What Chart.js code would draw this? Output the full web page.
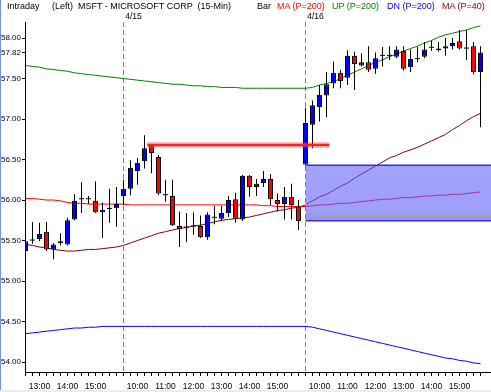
<!DOCTYPE html>
<html lang="en">
<head>
  <meta charset="UTF-8">
  <title>MSFT - Microsoft Corp (15-Min)</title>
  <script src="https://cdn.jsdelivr.net/npm/chart.js@4"></script>
  <style>
    html, body { margin: 0; padding: 0; background: #fff; }
    body {
      width: 491px; height: 392px; position: relative; overflow: hidden;
      font-family: 'Liberation Sans', Arial, sans-serif;
    }
    #chart { position: absolute; left: 0; top: 0; }
    .hdr { position: absolute; top: 0; font-size: 9px; line-height: 12px; white-space: pre; color: #000; }
    .frame-left { position: absolute; left: 0; top: 0; width: 1px; height: 392px; background: #7f8fe0; }
    .frame-bottom { position: absolute; left: 0; bottom: 0; width: 491px; height: 2px; background: #ececec; }
  </style>
</head>
<body>
  <canvas id="chart" width="491" height="392"></canvas>
  <span class="hdr" style="left:7px">Intraday</span>
  <span class="hdr" style="left:52px">(Left)</span>
  <span class="hdr" style="left:78px">MSFT - MICROSOFT CORP  (15-Min)</span>
  <span class="hdr" style="left:257px">Bar</span>
  <span class="hdr" style="left:277px;color:#ff0000">MA (P=200)</span>
  <span class="hdr" style="left:332px;color:#008000">UP (P=200)</span>
  <span class="hdr" style="left:387px;color:#0000ff">DN (P=200)</span>
  <span class="hdr" style="left:442px;color:#800000">MA (P=40)</span>
  <div class="frame-left"></div>
  <div class="frame-bottom"></div>

  <script>
    // 15-minute bars: afternoon of 4/14, then full sessions of 4/15 and 4/16
    const sessionTimes = ['9:30','9:45','10:00','10:15','10:30','10:45','11:00','11:15','11:30','11:45',
      '12:00','12:15','12:30','12:45','13:00','13:15','13:30','13:45','14:00','14:15',
      '14:30','14:45','15:00','15:15','15:30','15:45'];
    const barTimes = sessionTimes.slice(12).concat(sessionTimes, sessionTimes);
    const dayStarts = [14, 40];
    const dayLabels = ['4/15', '4/16'];

    const open = [55.37,55.50,55.52,55.61,55.39,55.47,55.45,55.76,56.01,56.01,
      55.99,55.85,55.89,55.90,56.05,56.14,56.36,56.48,56.67,56.53,
      56.06,56.05,55.68,55.66,55.69,55.68,55.54,55.78,55.77,55.84,
      56.01,55.76,56.30,56.16,56.21,56.26,56.00,55.95,56.04,55.92,
      56.44,56.93,57.15,57.29,57.44,57.57,57.51,57.78,57.66,57.70,
      57.62,57.78,57.78,57.77,57.84,57.64,57.74,57.77,57.88,57.87,
      57.87,57.90,57.96,57.87,57.90,57.58];
    const high = [55.55,55.73,55.72,55.73,55.47,55.59,55.78,56.07,56.22,56.05,
      56.23,55.97,56.14,56.16,56.25,56.49,56.52,56.80,56.68,56.56,
      56.25,56.25,55.86,55.84,55.85,55.81,55.85,55.93,55.93,56.05,
      56.09,56.31,56.31,56.26,56.36,56.32,56.08,56.16,56.20,56.00,
      57.14,57.23,57.42,57.58,57.71,57.61,57.85,57.83,57.81,57.90,
      57.82,57.89,57.90,57.90,57.90,57.86,57.89,57.95,57.97,57.95,
      58.00,58.00,58.10,58.10,57.95,57.90];
    const low = [55.36,55.46,55.49,55.37,55.27,55.44,55.44,55.75,55.84,55.95,
      55.84,55.53,55.72,55.67,55.94,56.06,56.19,56.39,56.33,56.06,
      55.98,55.68,55.42,55.48,55.57,55.53,55.51,55.70,55.74,55.79,
      55.72,55.74,56.04,56.05,56.16,55.94,55.86,55.76,55.76,55.63,
      56.43,56.64,56.97,57.02,57.38,57.38,57.42,57.36,57.65,57.58,
      57.56,57.65,57.73,57.75,57.60,57.58,57.70,57.75,57.84,57.83,
      57.78,57.86,57.86,57.73,57.55,56.90];
    const close = [55.49,55.50,55.58,55.39,55.45,55.49,55.75,55.99,56.01,56.01,
      55.85,55.88,55.89,55.95,56.14,56.40,56.46,56.64,56.58,56.08,
      56.06,55.69,55.64,55.66,55.67,55.54,55.82,55.78,55.84,56.00,
      55.77,56.30,56.16,56.20,56.26,56.01,55.95,56.04,55.94,55.74,
      56.95,57.17,57.30,57.43,57.57,57.47,57.78,57.68,57.70,57.61,
      57.75,57.78,57.78,57.86,57.62,57.74,57.74,57.86,57.88,57.85,
      57.90,57.94,57.87,57.87,57.58,57.82];

    const ma200 = [56.02,56.02,56.01,56.00,56.00,55.99,55.97,55.96,55.96,55.95,
      55.95,55.95,55.95,55.95,55.95,55.94,55.94,55.94,55.94,55.94,
      55.94,55.94,55.94,55.94,55.94,55.94,55.94,55.94,55.94,55.94,
      55.94,55.94,55.94,55.94,55.93,55.93,55.92,55.92,55.92,55.92,
      55.92,55.93,55.94,55.94,55.95,55.96,55.96,55.97,55.98,55.99,
      56.00,56.01,56.01,56.02,56.03,56.03,56.04,56.05,56.05,56.06,
      56.06,56.07,56.07,56.08,56.09,56.10];
    const upBand = [57.66,57.65,57.64,57.62,57.61,57.60,57.59,57.57,57.56,57.55,
      57.54,57.53,57.52,57.51,57.50,57.49,57.48,57.47,57.46,57.45,
      57.44,57.43,57.43,57.42,57.41,57.41,57.40,57.40,57.39,57.39,
      57.39,57.38,57.38,57.38,57.38,57.38,57.38,57.38,57.38,57.38,
      57.38,57.39,57.42,57.44,57.46,57.50,57.54,57.58,57.62,57.66,
      57.70,57.73,57.77,57.80,57.84,57.87,57.90,57.94,57.97,58.01,
      58.04,58.06,58.08,58.10,58.13,58.15];
    const dnBand = [54.35,54.36,54.37,54.38,54.39,54.40,54.41,54.42,54.42,54.43,
      54.43,54.44,54.44,54.44,54.44,54.44,54.44,54.44,54.44,54.44,
      54.44,54.44,54.44,54.44,54.44,54.44,54.44,54.44,54.44,54.44,
      54.44,54.44,54.44,54.44,54.44,54.44,54.44,54.44,54.44,54.44,
      54.44,54.43,54.41,54.39,54.37,54.35,54.33,54.31,54.29,54.27,
      54.25,54.23,54.21,54.19,54.17,54.15,54.13,54.11,54.09,54.07,
      54.05,54.04,54.02,54.01,53.99,53.98];
    const ma40 = [55.45,55.44,55.42,55.41,55.39,55.38,55.37,55.37,55.38,55.39,
      55.39,55.40,55.41,55.42,55.44,55.47,55.50,55.53,55.56,55.59,
      55.61,55.63,55.65,55.66,55.68,55.69,55.71,55.73,55.75,55.76,
      55.77,55.78,55.79,55.81,55.83,55.85,55.87,55.88,55.90,55.91,
      55.94,55.99,56.04,56.07,56.12,56.17,56.21,56.27,56.32,56.37,
      56.42,56.47,56.52,56.55,56.59,56.62,56.65,56.69,56.73,56.77,
      56.81,56.87,56.92,56.98,57.03,57.07];

    const yTicks = [54.00, 54.50, 55.00, 55.50, 56.00, 56.50, 57.00, 57.50, 57.82, 58.00];

    // hand-drawn marks: gap zone from the 4/16 open and the red resistance line
    const gapStart = 40, gapTop = 56.43, gapBottom = 55.745;
    const lineFrom = 17.4, lineTo = 43.4, linePrice = 56.68;

    const xMin = -1 / 14, xMax = 66.5;
    const yMin = 53.877, yMax = 58.198;

    const FONT = { family: "'Liberation Sans', Arial, sans-serif", size: 8.5 };
    const YFONT = { family: "'Liberation Sans', Arial, sans-serif", size: 8 };

    const bars = barTimes.map((t, i) => i);
    const series = arr => bars.map(i => ({ x: i, y: arr[i] }));

    function gapFill(ctx) {
      const chart = ctx.chart;
      if (!chart.chartArea) return 'rgba(90,90,250,0.58)';
      const ys = chart.scales.y;
      const t = ys.getPixelForValue(gapTop), b = ys.getPixelForValue(gapBottom);
      const g = chart.ctx.createLinearGradient(0, t, 0, b);
      g.addColorStop(0, 'rgba(90,90,250,0.56)');
      g.addColorStop(0.8, 'rgba(90,90,250,0.58)');
      g.addColorStop(1, 'rgba(110,110,170,0.7)');
      return g;
    }

    const ctx = document.getElementById('chart').getContext('2d');
    new Chart(ctx, {
      type: 'bar',
      data: {
        datasets: [
          {
            type: 'line', label: 'line', order: -1,
            data: [{ x: lineFrom, y: linePrice }, { x: lineTo, y: linePrice }],
            borderColor: '#ff2020', borderWidth: 2.5, pointRadius: 0
          },
          {
            type: 'line', label: 'line glow', order: 0,
            data: [{ x: lineFrom, y: linePrice }, { x: lineTo, y: linePrice }],
            borderColor: 'rgba(255,80,80,0.35)', borderWidth: 6, pointRadius: 0
          },
          {
            type: 'line', label: 'gap top', order: 1,
            data: [{ x: gapStart, y: gapTop }, { x: xMax + 1, y: gapTop }],
            borderColor: '#3030d8', borderWidth: 1.5, pointRadius: 0
          },
          {
            type: 'line', label: 'gap bottom', order: 1,
            data: [{ x: gapStart, y: gapBottom }, { x: xMax + 1, y: gapBottom }],
            borderColor: '#3030d8', borderWidth: 1.5, pointRadius: 0,
            fill: '-1', backgroundColor: gapFill
          },
          {
            label: 'body', order: 2, grouped: false,
            data: bars.map(i => ({ x: i, y: [open[i], close[i]] })),
            backgroundColor: c => {
              const i = c.dataIndex;
              return close[i] > open[i] ? '#0000ff' : close[i] < open[i] ? '#ff0000' : '#000';
            },
            borderColor: '#000',
            borderWidth: c => (close[c.dataIndex] === open[c.dataIndex] ? 0 : 1),
            borderSkipped: false, barThickness: 5, minBarLength: 1, inflateAmount: 0
          },
          {
            label: 'wick', order: 3, grouped: false,
            data: bars.map(i => ({ x: i, y: [low[i], high[i]] })),
            backgroundColor: '#000', borderWidth: 0, barThickness: 1, inflateAmount: 0
          },
          { type: 'line', label: 'MA (P=200)', order: 4, data: series(ma200), borderColor: '#ff0000', borderWidth: 1, pointRadius: 0 },
          { type: 'line', label: 'UP (P=200)', order: 4, data: series(upBand), borderColor: '#008000', borderWidth: 1, pointRadius: 0 },
          { type: 'line', label: 'DN (P=200)', order: 4, data: series(dnBand), borderColor: '#0000ff', borderWidth: 1, pointRadius: 0 },
          { type: 'line', label: 'MA (P=40)', order: 4, data: series(ma40), borderColor: '#800000', borderWidth: 1, pointRadius: 0 }
        ]
      },
      options: {
        responsive: false,
        animation: false,
        devicePixelRatio: 1,
        layout: { padding: 0 },
        plugins: { legend: { display: false }, tooltip: { enabled: false } },
        scales: {
          x: {
            type: 'linear', position: 'bottom', min: xMin, max: xMax, offset: false,
            afterBuildTicks: s => { s.ticks = bars.map(i => ({ value: i })); },
            afterFit: s => { s.height = 20; },
            ticks: {
              autoSkip: false, maxRotation: 0, minRotation: 0, padding: 6, color: '#000', font: FONT,
              callback: v => (barTimes[v] && barTimes[v].endsWith(':00') ? barTimes[v] : '')
            },
            grid: { drawOnChartArea: false, tickLength: 4, color: '#000', offset: false },
            border: { color: '#000' }
          },
          x2: {
            type: 'linear', position: 'top', min: xMin, max: xMax, offset: false,
            afterBuildTicks: s => { s.ticks = dayStarts.map(v => ({ value: v })); },
            afterFit: s => { s.height = 22; },
            ticks: {
              autoSkip: false, maxRotation: 0, padding: 0, labelOffset: 10, color: '#000', font: FONT,
              callback: (v, i) => dayLabels[i]
            },
            grid: { drawOnChartArea: true, drawTicks: false, color: '#808080', offset: false },
            border: { display: false, dash: [5, 3] }
          },
          y: {
            type: 'linear', position: 'left', min: yMin, max: yMax,
            afterBuildTicks: s => { s.ticks = yTicks.map(v => ({ value: v })); },
            afterFit: s => { s.width = 25; },
            ticks: { autoSkip: false, padding: 1, color: '#000', font: YFONT, callback: v => v.toFixed(2) },
            grid: { drawOnChartArea: false, tickLength: 3, color: '#000' },
            border: { color: '#000' }
          }
        }
      }
    });
  </script>
</body>
</html>
